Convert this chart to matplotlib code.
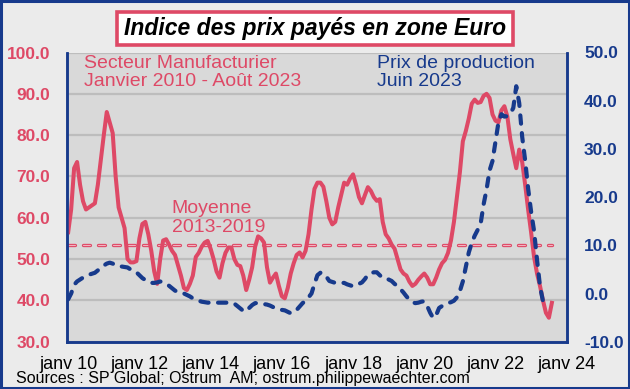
import matplotlib
matplotlib.use("Agg")
import matplotlib.pyplot as plt
import matplotlib.patches as patches
import numpy as np

plt.rcParams['font.family'] = ['Liberation Sans', 'DejaVu Sans']
plt.rcParams['lines.scale_dashes'] = False

RED = '#DE4966'
BLUE = '#173A8C'

# PMI manufacturier zone euro - prix des intrants, janv 2010 -> août 2023 (mensuel)
pmi_input_prices = [
    56.5, 62.0, 72.0, 73.5, 68.0, 64.0, 62.0, 62.5, 63.0, 63.5, 68.0, 74.0,   # 2010
    80.0, 85.6, 83.0, 80.5, 70.0, 62.5, 60.0, 57.5, 50.0, 49.2, 49.2, 49.5,   # 2011
    55.0, 58.5, 59.0, 56.0, 52.0, 47.0, 44.0, 50.0, 54.5, 54.8, 53.5, 52.0,   # 2012
    51.0, 48.5, 46.0, 43.0, 42.5, 44.0, 46.0, 50.5, 51.5, 53.0, 54.0, 54.4,   # 2013
    52.5, 50.0, 47.0, 45.5, 49.0, 51.5, 52.8, 52.8, 50.0, 48.6, 48.3, 46.0,   # 2014
    42.5, 45.0, 48.0, 53.0, 55.5, 55.0, 54.0, 48.0, 44.3, 45.5, 46.5, 43.5,   # 2015
    41.0, 40.5, 43.0, 46.5, 49.0, 51.0, 51.6, 50.4, 52.0, 56.0, 62.0, 67.0,   # 2016
    68.5, 68.5, 67.5, 64.0, 60.0, 58.4, 59.0, 62.5, 65.5, 68.5, 68.0, 69.5,   # 2017
    70.5, 68.0, 65.0, 63.5, 65.5, 67.4, 66.5, 65.0, 64.1, 64.5, 59.0, 56.0,   # 2018
    55.0, 53.5, 52.5, 50.0, 47.5, 46.5, 46.0, 44.5, 43.5, 44.0, 45.0, 45.8,   # 2019
    46.5, 45.5, 43.9, 43.9, 45.5, 47.5, 49.0, 49.8, 51.5, 54.5, 59.0, 65.0,   # 2020
    71.0, 78.5, 81.0, 84.0, 87.6, 88.6, 87.8, 88.0, 89.5, 90.0, 89.0, 85.0,   # 2021
    83.5, 83.1, 86.0, 87.0, 84.5, 79.0, 75.4, 72.0, 76.5, 73.5, 68.0, 62.0,   # 2022
    56.5, 50.5, 46.5, 43.5, 40.0, 37.0, 35.8, 39.4,                           # 2023
]

# Prix de production zone euro, glissement annuel (%), janv 2010 -> juin 2023
ppi_yoy = [
    -1.2, 0.0, 1.8, 2.5, 2.9, 3.3, 3.6, 3.9, 4.1, 4.3, 4.8, 5.2,              # 2010
    5.8, 6.2, 6.4, 6.2, 5.9, 5.6, 5.6, 5.5, 5.4, 5.0, 4.8, 4.4,               # 2011
    3.8, 3.2, 2.8, 2.5, 2.2, 2.2, 2.3, 2.5, 2.3, 2.0, 1.6, 1.1,               # 2012
    0.6, 0.3, 0.1, 0.0, -0.3, -0.6, -1.0, -1.3, -1.5, -1.7, -1.8, -1.9,       # 2013
    -1.9, -1.9, -1.9, -1.9, -1.9, -1.9, -1.9, -1.9, -2.1, -2.6, -3.1, -3.6,   # 2014
    -3.7, -3.0, -2.4, -2.0, -2.0, -2.1, -2.2, -2.3, -2.5, -2.8, -3.1, -3.3,   # 2015
    -3.4, -3.5, -3.8, -4.1, -3.9, -3.4, -2.7, -2.0, -1.5, -0.8, 0.0, 2.0,     # 2016
    3.8, 4.3, 4.2, 3.5, 2.6, 2.4, 2.2, 2.2, 2.2, 2.2, 1.9, 1.7,               # 2017
    1.5, 1.7, 2.0, 2.3, 3.0, 3.9, 4.2, 4.4, 4.4, 3.8, 3.2, 3.1,               # 2018
    2.9, 2.6, 2.0, 1.5, 0.9, 0.2, -0.6, -1.3, -1.8, -2.0, -1.9, -1.7,         # 2019
    -1.6, -2.6, -4.0, -5.1, -4.5, -3.0, -2.6, -2.3, -2.0, -1.8, -1.5, -0.8,   # 2020
    0.5, 2.5, 5.5, 8.5, 10.5, 12.0, 13.2, 14.5, 18.5, 21.6, 25.5, 27.5,       # 2021
    31.5, 35.5, 37.2, 36.7, 36.8, 37.3, 38.5, 43.0, 39.5, 32.5, 27.6, 21.8,   # 2022
    17.0, 13.0, 7.0, 1.5, -1.6,                                               # 2023
]

mean_2013_2019 = 53.5
year_labels = ['janv 10', 'janv 12', 'janv 14', 'janv 16',
               'janv 18', 'janv 20', 'janv 22', 'janv 24']
left_ticks = [30, 40, 50, 60, 70, 80, 90, 100]
right_ticks = [-10, 0, 10, 20, 30, 40, 50]

months_red = np.arange(len(pmi_input_prices))
months_blue = np.arange(len(ppi_yoy))
label_pos = np.arange(len(year_labels)) * 24

fig = plt.figure(figsize=(6.3, 3.89), dpi=100)
fig.patch.set_facecolor('#EBEBEB')

ax = fig.add_axes([66.7 / 630, 47.3 / 389, 500 / 630, 289.2 / 389])
ax.set_facecolor('#D9D9D9')
ax2 = ax.twinx()
ax2.patch.set_visible(False)

# gridlines (left axis)
ax.set_ylim(30, 100)
ax.set_yticks(left_ticks)
ax.yaxis.grid(True, color='#BDBDBD', linewidth=1.6)
ax.set_axisbelow(True)

# moyenne 2013-2019
ax.plot([0, months_red[-1]], [mean_2013_2019] * 2, color=RED, lw=2.4,
        dashes=(5.0, 5.8), dash_capstyle='round', zorder=2)
ax.plot([0, months_red[-1]], [mean_2013_2019] * 2, color='#F2B3C0', lw=0.8,
        dashes=(5.0, 5.8), dash_capstyle='round', zorder=2)

ax.plot(months_red, pmi_input_prices, color=RED, lw=2.9,
        solid_joinstyle='round', zorder=3)

ax2.plot(months_blue, ppi_yoy, color=BLUE, lw=3.0,
         dashes=(6.0, 6.8), dash_capstyle='round', zorder=4)
ax2.set_ylim(-10, 50)
ax2.set_yticks(right_ticks)

ax.set_xlim(-0.5, 168)
ax.set_xticks(label_pos)
ax.set_xticklabels(year_labels)

ax.tick_params(axis='y', length=0, pad=12, labelsize=12.5, labelcolor=RED)
ax2.tick_params(axis='y', length=0, pad=12.5, labelsize=12.5, labelcolor=BLUE)
ax.tick_params(axis='x', length=0, pad=10, labelsize=13, labelcolor='black')
ax.yaxis.set_major_formatter(matplotlib.ticker.FormatStrFormatter('%.1f'))
ax2.yaxis.set_major_formatter(matplotlib.ticker.FormatStrFormatter('%.1f'))
for lab in ax.get_yticklabels() + ax2.get_yticklabels():
    lab.set_fontweight('bold')

for a in (ax, ax2):
    a.spines['top'].set_visible(False)
    for s in ('left', 'bottom', 'right'):
        a.spines[s].set_color(BLUE)
        a.spines[s].set_linewidth(1.8)

# annotations
ax.text(0.035, 0.993, 'Secteur Manufacturier\nJanvier 2010 - Août 2023',
        transform=ax.transAxes, color=RED, fontsize=14, va='top', ha='left',
        linespacing=1.15)
ax.text(0.62, 0.993, 'Prix de production\nJuin 2023',
        transform=ax.transAxes, color=BLUE, fontsize=14, va='top', ha='left',
        linespacing=1.15)
ax.text(0.21, 0.491, 'Moyenne\n2013-2019', transform=ax.transAxes,
        color=RED, fontsize=14, va='top', ha='left', linespacing=1.15)

# title box
fig.patches.append(patches.Rectangle((117 / 630, 1 - 45 / 389), 396 / 630, 33 / 389,
                                     transform=fig.transFigure, facecolor='white',
                                     edgecolor=RED, linewidth=2.6, zorder=5))
fig.text(0.5, 1 - 28.5 / 389, 'Indice des prix payés en zone Euro',
         ha='center', va='center', fontsize=16.5, fontweight='bold',
         fontstyle='italic', color='black', zorder=6)

fig.text(16 / 630, 1 - 379 / 389,
         'Sources : SP Global; Ostrum  AM; ostrum.philippewaechter.com',
         ha='left', va='center', fontsize=11.5, color='black')

# cadre
fig.patches.append(patches.Rectangle((0.0015, 0.0025), 0.997, 0.995,
                                     transform=fig.transFigure, fill=False,
                                     edgecolor=BLUE, linewidth=2.2, zorder=10))

fig.savefig('out.png', dpi=100, facecolor=fig.get_facecolor())
